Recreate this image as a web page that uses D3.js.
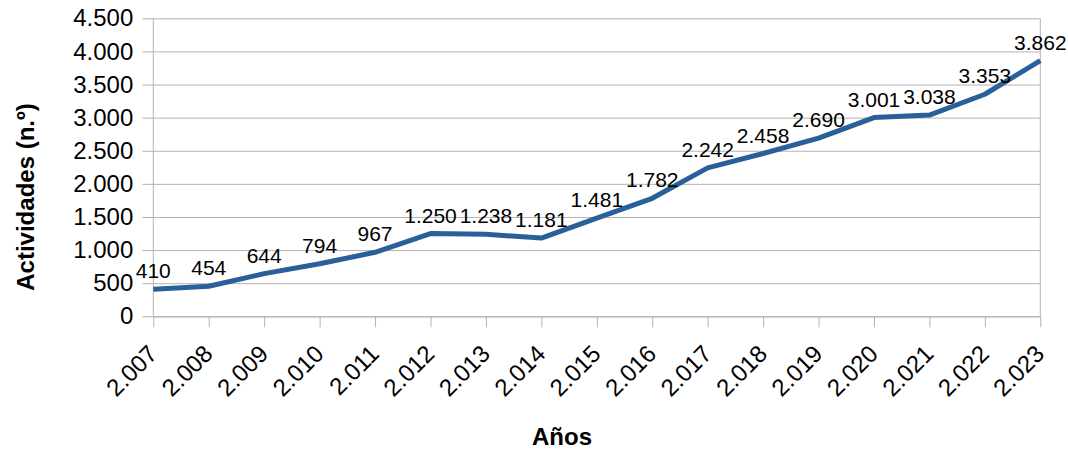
<!DOCTYPE html>
<html>
<head>
<meta charset="utf-8">
<script src="https://cdn.jsdelivr.net/npm/d3@7"></script>
<style>
  body { margin: 0; background: #fff; }
  text { font-family: "Liberation Sans", Arial, sans-serif; fill: #000; }
</style>
</head>
<body>
<div id="chart"></div>
<script>
const years = ["2.007", "2.008", "2.009", "2.010", "2.011", "2.012", "2.013", "2.014", "2.015",
               "2.016", "2.017", "2.018", "2.019", "2.020", "2.021", "2.022", "2.023"];
const actividades = [410, 454, 644, 794, 967, 1250, 1238, 1181, 1481, 1782, 2242, 2458, 2690, 3001, 3038, 3353, 3862];
const yTicks = [0, 500, 1000, 1500, 2000, 2500, 3000, 3500, 4000, 4500];

const fmt = v => d3.format(",")(v).replace(/,/g, ".");

function PlotChart(parent_element) {
  const W = 1068, H = 449;
  const left = 153.3, right = 1040.3, top = 18.3, bottom = 316.3;

  const svg = d3.select(`#${parent_element}`)
    .append("svg")
    .attr("width", W)
    .attr("height", H);

  const x = d3.scalePoint().domain(years).range([left, right]);
  const y = d3.scaleLinear().domain([0, 4500]).range([bottom, top]);

  // horizontal grid + y axis
  const yAxis = svg.append("g")
    .attr("transform", `translate(${left},0)`)
    .call(d3.axisLeft(y).tickValues(yTicks).tickFormat(fmt)
      .tickSize(11).tickPadding(9));
  yAxis.select(".domain").remove();
  yAxis.selectAll(".tick line").attr("stroke", "#b3b3b3").attr("x2", right - left).attr("x1", -11);
  yAxis.selectAll(".tick text").attr("font-size", 24).attr("font-family", "Liberation Sans");

  // vertical border lines
  svg.append("line").attr("x1", left).attr("x2", left).attr("y1", top).attr("y2", bottom)
    .attr("stroke", "#b3b3b3");
  svg.append("line").attr("x1", right).attr("x2", right).attr("y1", top).attr("y2", bottom)
    .attr("stroke", "#b3b3b3");

  // x axis
  const xAxis = svg.append("g")
    .attr("transform", `translate(0,${bottom})`)
    .call(d3.axisBottom(x).tickSize(11).tickSizeOuter(0));
  xAxis.select(".domain").attr("stroke", "#b3b3b3");
  xAxis.selectAll(".tick line").attr("stroke", "#b3b3b3");
  xAxis.selectAll(".tick text")
    .attr("font-size", 24)
    .attr("font-family", "Liberation Sans")
    .attr("text-anchor", "end")
    .attr("dy", null)
    .attr("y", 0)
    .attr("transform", "translate(5,39) rotate(-45)");

  // line
  const line = d3.line()
    .x((d, i) => x(years[i]))
    .y(d => y(d));

  svg.append("path")
    .datum(actividades)
    .attr("fill", "none")
    .attr("stroke", "#2a6099")
    .attr("stroke-width", 5)
    .attr("stroke-linejoin", "round")
    .attr("d", line);

  // data labels
  svg.append("g").selectAll("text")
    .data(actividades)
    .join("text")
    .attr("x", (d, i) => x(years[i]))
    .attr("y", d => y(d) - 11)
    .attr("text-anchor", "middle")
    .attr("font-size", 21)
    .text(d => fmt(d));

  // axis titles
  svg.append("text")
    .attr("x", 562)
    .attr("y", 445)
    .attr("text-anchor", "middle")
    .attr("font-size", 24)
    .attr("font-weight", "bold")
    .text("Años");

  svg.append("text")
    .attr("transform", `translate(34,197) rotate(-90)`)
    .attr("text-anchor", "middle")
    .attr("font-size", 24)
    .attr("font-weight", "bold")
    .text("Actividades (n.º)");
}

document.addEventListener('DOMContentLoaded', (event) => {
  PlotChart("chart");
});
</script>
</body>
</html>
